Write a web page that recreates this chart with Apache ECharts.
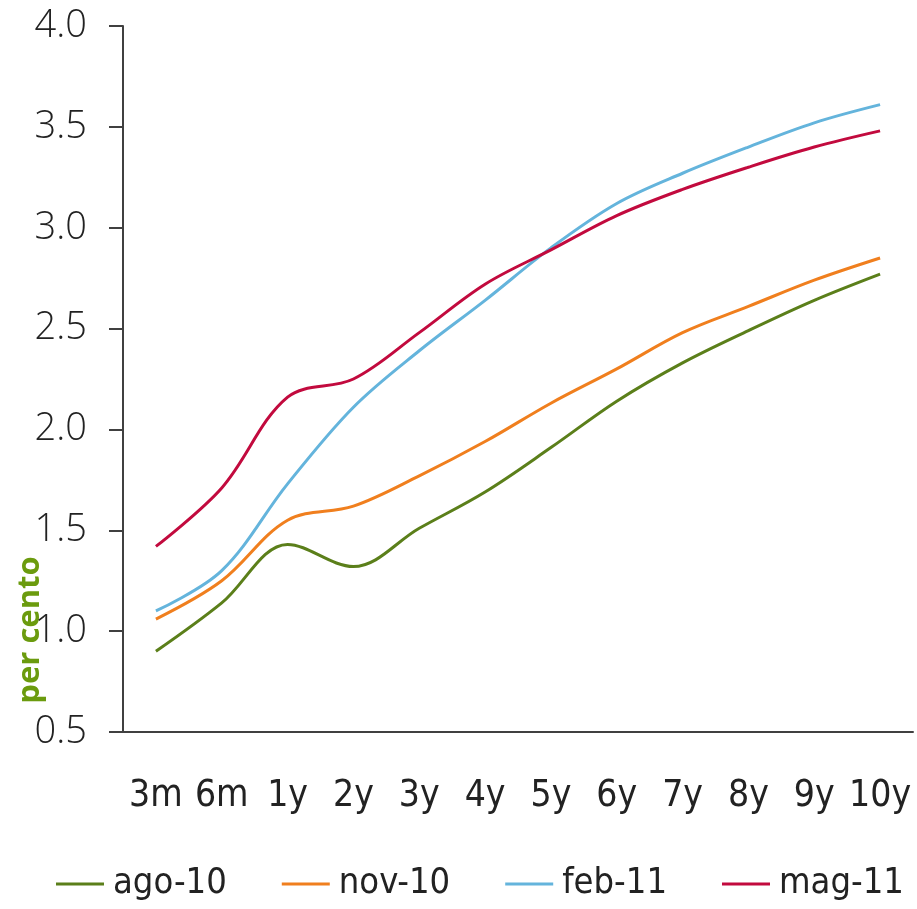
<!DOCTYPE html>
<html>
<head>
<meta charset="utf-8">
<script src="https://cdn.jsdelivr.net/npm/echarts@6/dist/echarts.min.js"></script>
<style>
html,body{margin:0;padding:0;background:#fff;}
#chart{width:917px;height:909px;}
</style>
</head>
<body>
<div id="chart"></div>
<script>
const categories = ['3m','6m','1y','2y','3y','4y','5y','6y','7y','8y','9y','10y'];
const ago10 = [0.90, 1.14, 1.43, 1.32, 1.51, 1.69, 1.91, 2.14, 2.33, 2.49, 2.64, 2.77];
const nov10 = [1.06, 1.25, 1.55, 1.62, 1.77, 1.94, 2.13, 2.30, 2.48, 2.61, 2.74, 2.85];
const feb11 = [1.10, 1.30, 1.73, 2.11, 2.39, 2.64, 2.90, 3.12, 3.27, 3.40, 3.52, 3.61];
const mag11 = [1.42, 1.71, 2.16, 2.25, 2.48, 2.72, 2.89, 3.06, 3.19, 3.30, 3.40, 3.48];
const seriesNames = ['ago-10','nov-10','feb-11','mag-11'];
const seriesColors = ['#5b7f1a','#f07f1e','#64b4dc','#c20a3e'];
const yTicks = {min: 0.5, max: 4.0, interval: 0.5};

const chart = echarts.init(document.getElementById('chart'), null, {renderer: 'canvas'});
const dataSets = [ago10, nov10, feb11, mag11];
const axisColor = '#404040';
const condFont = '"DejaVu Sans Condensed", "Liberation Sans Narrow", sans-serif';
const option = {
  animation: false,
  backgroundColor: '#ffffff',
  grid: {left: 123, right: 4, top: 26, bottom: 177, containLabel: false},
  legend: {
    bottom: 2,
    left: 51,
    icon: 'rect',
    itemWidth: 48,
    itemHeight: 3,
    itemGap: 55,
    textStyle: {fontFamily: condFont, fontWeight: 300, fontSize: 36, color: '#222', padding: [0, 0, 0, 4]},
    data: seriesNames
  },
  xAxis: {
    type: 'category',
    data: categories,
    boundaryGap: true,
    axisLine: {lineStyle: {color: axisColor, width: 2}},
    axisTick: {length: 14, lineStyle: {color: axisColor, width: 2}},
    axisLabel: {fontFamily: condFont, fontWeight: 300, fontSize: 37, color: '#222', margin: 46, interval: 0},
    splitLine: {show: false}
  },
  yAxis: {
    type: 'value',
    min: yTicks.min,
    max: yTicks.max,
    interval: yTicks.interval,
    axisLine: {show: true, lineStyle: {color: axisColor, width: 2}},
    axisTick: {show: true, length: 14, lineStyle: {color: axisColor, width: 2}},
    axisLabel: {fontFamily: 'Open Sans', fontWeight: 300, fontSize: 38, color: '#222', margin: 36,
      formatter: v => v.toFixed(1)},
    splitLine: {show: false}
  },
  graphic: [{
    type: 'text',
    x: 30, y: 630,
    rotation: Math.PI / 2,
    style: {text: 'per cento', fill: '#6b9b0e', font: 'bold 31px "Open Sans"', textAlign: 'center', textVerticalAlign: 'middle'}
  }],
  series: dataSets.map((d, i) => ({
    name: seriesNames[i],
    type: 'line',
    data: d,
    smooth: 0.35,
    showSymbol: false,
    symbol: 'none',
    lineStyle: {color: seriesColors[i], width: 3},
    itemStyle: {color: seriesColors[i]}
  }))
};
chart.setOption(option);
</script>
</body>
</html>
